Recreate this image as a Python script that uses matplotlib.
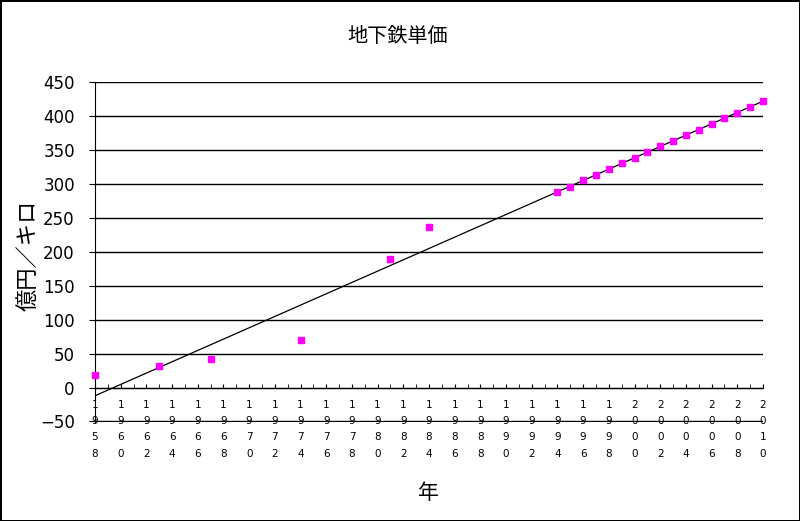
import numpy as np
import matplotlib
matplotlib.use("Agg")
import matplotlib.pyplot as plt
from matplotlib.ticker import MultipleLocator

plt.rcParams["font.family"] = ["DejaVu Sans", "Noto Sans CJK JP"]

years = [1958, 1963, 1967, 1974, 1981, 1984,
         1994, 1995, 1996, 1997, 1998, 1999, 2000, 2001, 2002,
         2003, 2004, 2005, 2006, 2007, 2008, 2009, 2010]
cost = [18, 32, 42, 70, 189, 236,
        288, 296, 305, 313, 322, 330, 338, 347, 355,
        363, 372, 380, 388, 397, 405, 413, 422]
tick_years = list(range(1958, 2011, 2))

fig = plt.figure(figsize=(8, 5.21), dpi=100)
fig.patch.set_edgecolor("black")
fig.patch.set_linewidth(2)
ax = fig.add_axes([95 / 800, 99 / 521, 668 / 800, 340 / 521])

# linear trend line, as the spreadsheet drew it
slope, icpt = np.polyfit(years, cost, 1)
xs = np.array([1958, 2010])
ax.plot(xs, slope * xs + icpt, color="black", lw=0.9)

ax.plot(years, cost, ls="none", marker="s", ms=5, color="#FF00FF", clip_on=False, zorder=5)

ax.set_xlim(1958, 2010)
ax.set_ylim(-50.8, 450)
ax.set_yticks(range(-50, 451, 50))
ax.grid(axis="y", color="black", lw=1)
ax.set_axisbelow(True)

ax.spines["top"].set_visible(False)
ax.spines["right"].set_visible(False)
ax.spines["bottom"].set_position(("data", 0))

ax.set_xticks(tick_years)
ax.set_xticklabels(["\n".join(str(y)) for y in tick_years], fontsize=7.5, linespacing=1.78, va="top")
ax.xaxis.set_minor_locator(MultipleLocator(1))
ax.tick_params(axis="x", which="both", direction="in", length=3, pad=9)
ax.tick_params(axis="y", direction="out", length=4, labelsize=12, pad=10.5)

fig.text(0.4975, 1 - 36 / 521, "地下鉄単価", ha="center", va="center", fontsize=14.5)
fig.text(28 / 800, 1 - 255 / 521, "億円／キロ", rotation=90, ha="center", va="center", fontsize=16)
fig.text(428 / 800, 1 - 493 / 521, "年", ha="center", va="center", fontsize=15)

fig.savefig("out.png", dpi=100)
